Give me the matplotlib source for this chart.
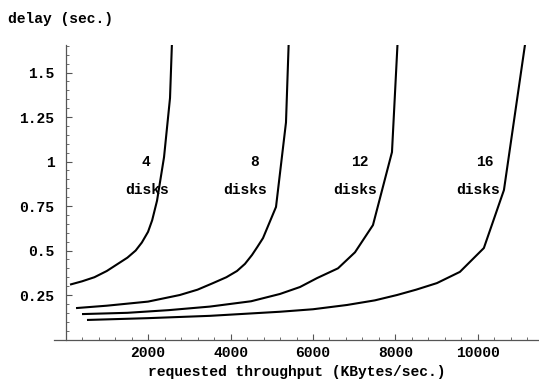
import matplotlib
matplotlib.use("Agg")
import matplotlib.pyplot as plt
from matplotlib.ticker import MultipleLocator, FixedLocator

# throughput (KBytes/sec.) and delay (sec.)
x4 = [133, 400, 700, 1000, 1300, 1500, 1700, 1850, 2000, 2100, 2218, 2388, 2533, 2600]
y4 = [0.31, 0.327, 0.35, 0.385, 0.43, 0.46, 0.50, 0.545, 0.605, 0.67, 0.78, 1.025, 1.357, 1.80]

x8 = [279, 1000, 2000, 2769, 3200, 3576, 3900, 4157, 4350, 4521, 4650, 4788, 5103, 5345, 5430]
y8 = [0.177, 0.19, 0.213, 0.25, 0.28, 0.317, 0.35, 0.385, 0.425, 0.475, 0.52, 0.57, 0.745, 1.22, 1.80]

x12 = [424, 1500, 2500, 3500, 4500, 5200, 5685, 6097, 6606, 7018, 7454, 7915, 8080]
y12 = [0.143, 0.15, 0.165, 0.185, 0.215, 0.256, 0.295, 0.345, 0.40, 0.49, 0.643, 1.053, 1.80]

x16 = [545, 2000, 3500, 5200, 6000, 6824, 7500, 8036, 8500, 9005, 9562, 10143, 10630, 11180]
y16 = [0.11, 0.12, 0.133, 0.156, 0.17, 0.194, 0.22, 0.25, 0.28, 0.317, 0.38, 0.514, 0.84, 1.72]

labels = ["4", "8", "12", "16"]
label_x = [1952, 4594, 7139, 10169]
disks_x = [1976, 4352, 7018, 9999]

xticks = [2000, 4000, 6000, 8000, 10000]
yticks = [0.25, 0.5, 0.75, 1, 1.25, 1.5]
ytick_labels = ["0.25", "0.5", "0.75", "1", "1.25", "1.5"]

font = {"family": "Liberation Mono", "weight": "bold", "size": 10.5}
plt.rcParams["font.family"] = "Liberation Mono"
plt.rcParams["font.weight"] = "bold"

fig = plt.figure(figsize=(5.39, 3.79), dpi=100)
ax = fig.add_axes([0.1002, 0.1042, 0.8998, 0.7771])

for xs, ys in [(x4, y4), (x8, y8), (x12, y12), (x16, y16)]:
    ax.plot(xs, ys, color="black", linewidth=1.5, solid_joinstyle="round")

for lab, lx, dx in zip(labels, label_x, disks_x):
    ax.text(lx, 1.0, lab, ha="center", va="center", fontdict=font)
    ax.text(dx, 0.84, "disks", ha="center", va="center", fontdict=font)

ax.set_xlim(-280, 11480)
ax.set_ylim(0, 1.655)

ax.spines["top"].set_visible(False)
ax.spines["right"].set_visible(False)
ax.spines["left"].set_position(("data", 0))
for s in ["left", "bottom"]:
    ax.spines[s].set_color("#555555")
    ax.spines[s].set_linewidth(0.9)

ax.xaxis.set_major_locator(FixedLocator(xticks))
ax.xaxis.set_minor_locator(MultipleLocator(400))
ax.yaxis.set_major_locator(FixedLocator(yticks))
ax.set_yticklabels(ytick_labels)
ax.yaxis.set_minor_locator(MultipleLocator(0.05))

ax.tick_params(which="both", direction="in", color="#555555", labelsize=10.5)
ax.tick_params(which="major", length=4.5, width=0.8)
ax.tick_params(which="minor", length=2.5, width=0.6)
ax.tick_params(axis="x", pad=5)
ax.tick_params(axis="y", pad=8)

ax.set_xlabel("requested throughput (KBytes/sec.)", fontdict=font, labelpad=3)
fig.text(8 / 539, 1 - 19 / 379, "delay (sec.)", ha="left", va="center", fontdict=font)

fig.savefig("out.png", dpi=100)
